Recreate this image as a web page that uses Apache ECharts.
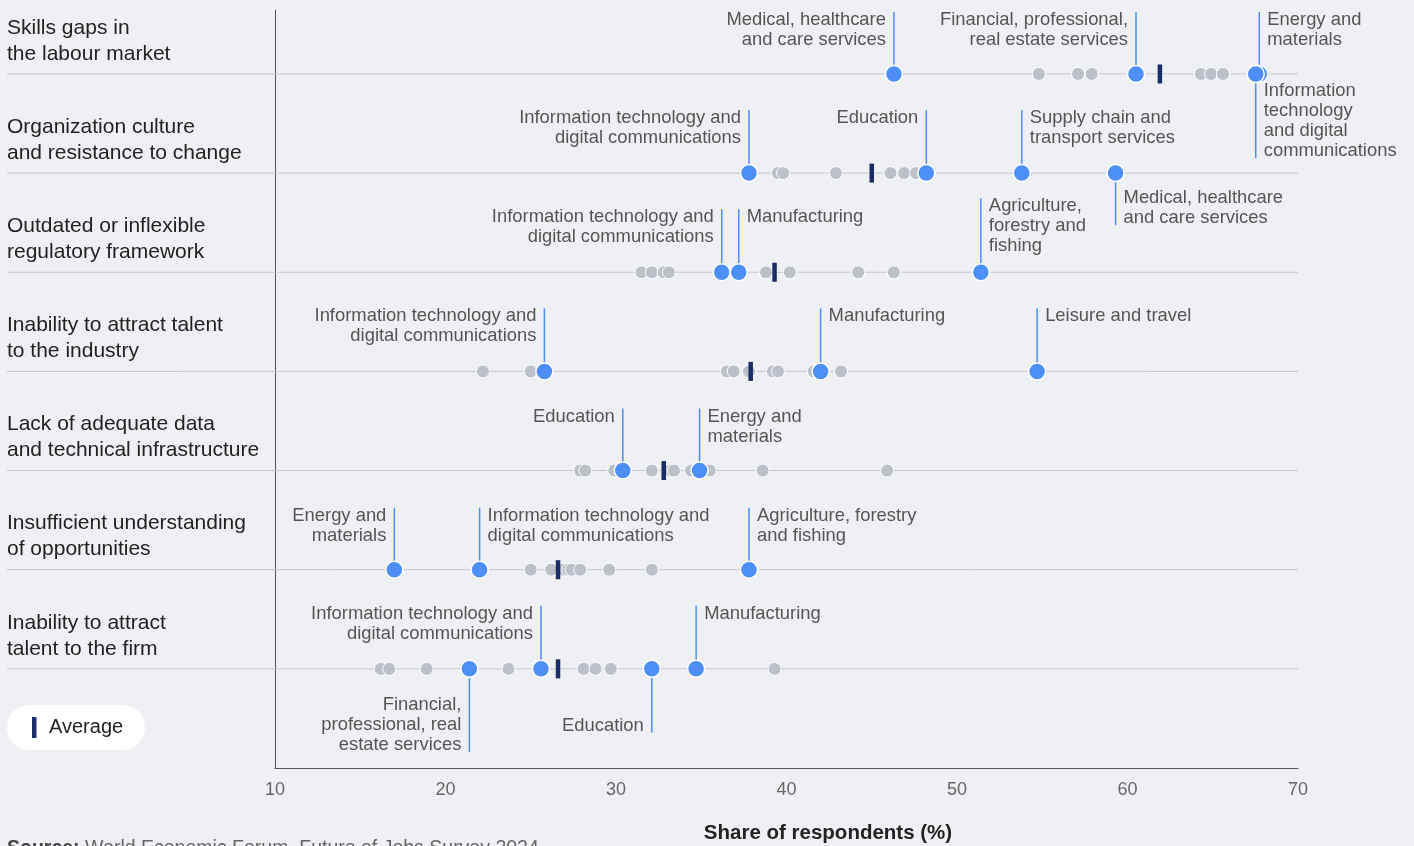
<!DOCTYPE html>
<html>
<head>
<meta charset="utf-8">
<script src="https://cdn.jsdelivr.net/npm/echarts@6/dist/echarts.min.js"></script>
<style>
html,body{margin:0;padding:0;background:#eff0f4;}
#chart{width:1414px;height:846px;}
</style>
</head>
<body>
<div id="chart"></div>
<script>
// ---- Data ----
const categories = [
  "Skills gaps in\nthe labour market",
  "Organization culture\nand resistance to change",
  "Outdated or inflexible\nregulatory framework",
  "Inability to attract talent\nto the industry",
  "Lack of adequate data\nand technical infrastructure",
  "Insufficient understanding\nof opportunities",
  "Inability to attract\ntalent to the firm"
];

const averages = [61.9, 45.0, 39.3, 37.9, 32.8, 26.6, 26.6];

const otherIndustries = [
  [54.8, 57.1, 57.9, 64.3, 64.9, 65.6],
  [39.5, 39.8, 42.9, 46.1, 46.9, 47.6],
  [31.5, 32.1, 32.8, 33.1, 38.8, 40.2, 44.2, 46.3],
  [22.2, 25.0, 36.5, 36.9, 37.8, 39.2, 39.5, 41.6, 43.2],
  [27.9, 28.2, 29.9, 32.1, 33.2, 33.4, 34.4, 35.5, 38.6, 45.9],
  [25.0, 26.2, 26.9, 27.2, 27.4, 27.9, 29.6, 32.1],
  [16.2, 16.7, 18.9, 23.7, 28.1, 28.8, 29.7, 39.3]
];

// highlighted industries: row, value, label
const highlightRows   = [0, 0, 0, 0, 1, 1, 1, 1, 2, 2, 2, 3, 3, 3, 4, 4, 5, 5, 5, 6, 6, 6, 6];
const highlightValues = [46.3, 60.5, 67.73, 67.52, 37.8, 48.2, 53.8, 59.3, 36.2, 37.2, 51.4, 25.8, 42.0, 54.7, 30.4, 34.9, 17.0, 22.0, 37.8, 25.6, 34.7, 21.4, 32.1];
const highlightLabels = [
  "Medical, healthcare\nand care services",
  "Financial, professional,\nreal estate services",
  "Energy and\nmaterials",
  "Information\ntechnology\nand digital\ncommunications",
  "Information technology and\ndigital communications",
  "Education",
  "Supply chain and\ntransport services",
  "Medical, healthcare\nand care services",
  "Information technology and\ndigital communications",
  "Manufacturing",
  "Agriculture,\nforestry and\nfishing",
  "Information technology and\ndigital communications",
  "Manufacturing",
  "Leisure and travel",
  "Education",
  "Energy and\nmaterials",
  "Energy and\nmaterials",
  "Information technology and\ndigital communications",
  "Agriculture, forestry\nand fishing",
  "Information technology and\ndigital communications",
  "Manufacturing",
  "Financial,\nprofessional, real\nestate services",
  "Education"
];

const xTicks = [10, 20, 30, 40, 50, 60, 70];

// ---- Layout (label placement: side of leader line, direction, leader length px) ----
const labelLayout = [
  ['L','up',62], ['L','up',62], ['R','up',62], ['R','down',84],
  ['L','up',63], ['L','up',63], ['R','up',63], ['R','down',52],
  ['L','up',63], ['R','up',63], ['R','up',74],
  ['L','up',63], ['R','up',63], ['R','up',63],
  ['L','up',62], ['R','up',62],
  ['L','up',62], ['R','up',62], ['R','up',62],
  ['L','up',63], ['R','up',63], ['L','down',83], ['L','down',64]
];

const BLUE = '#4d8ef7';
const GRAY = '#bcc0c9';
const NAVY = '#1b2d66';
const FONT = "'Liberation Sans', Arial, Helvetica, sans-serif";

const chart = echarts.init(document.getElementById('chart'), null, {renderer: 'canvas'});

const grayData = [];
otherIndustries.forEach((arr, r) => arr.forEach(v => grayData.push([v, r])));
const avgData = averages.map((v, r) => [v, r]);
const hlData = highlightValues.map((v, i) => [v, highlightRows[i], i]);
const rowData = categories.map((c, r) => [r, r]);

const option = {
  backgroundColor: '#eff0f4',
  animation: false,
  grid: {left: 275, right: 116, top: 10, bottom: 78, containLabel: false},
  xAxis: {
    type: 'value', min: 10, max: 70, interval: 10,
    axisLine: {show: true, onZero: false, lineStyle: {color: '#555', width: 1}},
    axisTick: {show: false},
    splitLine: {show: false},
    axisLabel: {
      color: '#666', fontSize: 18, margin: 13,
      fontFamily: FONT,
      formatter: v => xTicks.indexOf(v) >= 0 ? String(v) : ''
    }
  },
  yAxis: {
    type: 'value', min: -0.645, max: 7, inverse: true,
    axisLine: {show: true, onZero: false, lineStyle: {color: '#555', width: 1}},
    axisTick: {show: false}, axisLabel: {show: false}, splitLine: {show: false}
  },
  graphic: [
    {
      type: 'text', x: 828, y: 833,
      style: {text: 'Share of respondents (%)', fill: '#222', font: "bold 20.5px " + FONT,
              align: 'center', verticalAlign: 'middle'}
    },
    {
      type: 'group', left: 7, top: 705, children: [
        {type: 'rect', shape: {x: 0, y: 0, width: 138, height: 45, r: 22.5}, style: {fill: '#fff'}},
        {type: 'rect', shape: {x: 25, y: 12, width: 4.5, height: 21}, style: {fill: NAVY}},
        {type: 'text', x: 42, y: 22.5, style: {text: 'Average', fill: '#222', font: "20px " + FONT, verticalAlign: 'middle'}}
      ]
    },
    {
      type: 'text', x: 7, y: 839,
      style: {
        text: '{b|Source:} World Economic Forum, Future of Jobs Survey 2024.',
        fill: '#666', font: "19.5px " + FONT, verticalAlign: 'top',
        rich: {b: {fontWeight: 'bold', fill: '#444', fontSize: 19.5, fontFamily: FONT}}
      }
    }
  ],
  series: [
    {
      // row lines and row labels
      type: 'custom', z: 1, silent: true,
      data: rowData,
      renderItem: (params, api) => {
        const r = api.value(0);
        const pR = api.coord([70, r]);
        return {
          type: 'group', children: [
            {type: 'line', shape: {x1: 7, y1: pR[1], x2: pR[0], y2: pR[1]}, style: {stroke: '#c4c7d1', lineWidth: 1}},
            {type: 'text', x: 7, y: pR[1] - 7, style: {
              text: categories[r], fill: '#222', font: "21px " + FONT,
              lineHeight: 26, align: 'left', verticalAlign: 'bottom'}}
          ]
        };
      }
    },
    {
      type: 'scatter', z: 2, silent: true,
      data: grayData, symbol: 'circle', symbolSize: 13,
      itemStyle: {color: GRAY, borderColor: '#fff', borderWidth: 1, opacity: 1}
    },
    {
      type: 'scatter', z: 3, silent: true,
      data: avgData, symbol: 'rect', symbolSize: [4.5, 19],
      itemStyle: {color: NAVY, opacity: 1}
    },
    {
      // leader lines and labels
      type: 'custom', z: 4, silent: true,
      data: hlData,
      renderItem: (params, api) => {
        const v = api.value(0), r = api.value(1), i = api.value(2);
        const p = api.coord([v, r]);
        const [side, dir, len] = labelLayout[i];
        const tx = side === 'L' ? p[0] - 8 : p[0] + 8;
        let yEnd, ty, va;
        if (dir === 'up') { yEnd = p[1] - len; ty = yEnd - 2; va = 'top'; }
        else { yEnd = p[1] + len; ty = yEnd + 3; va = 'bottom'; }
        return {
          type: 'group', children: [
            {type: 'line', shape: {x1: p[0], y1: p[1], x2: p[0], y2: yEnd}, style: {stroke: BLUE, lineWidth: 1.5}},
            {type: 'text', x: tx, y: ty, style: {
              text: highlightLabels[i], fill: '#555', font: "18.4px " + FONT,
              lineHeight: 20, align: side === 'L' ? 'right' : 'left', verticalAlign: va}}
          ]
        };
      }
    },
    {
      type: 'scatter', z: 5, silent: true,
      data: hlData.map(d => [d[0], d[1]]), symbol: 'circle', symbolSize: 17,
      itemStyle: {color: BLUE, borderColor: '#fff', borderWidth: 1.5, opacity: 1}
    }
  ]
};
chart.setOption(option);
</script>
</body>
</html>
